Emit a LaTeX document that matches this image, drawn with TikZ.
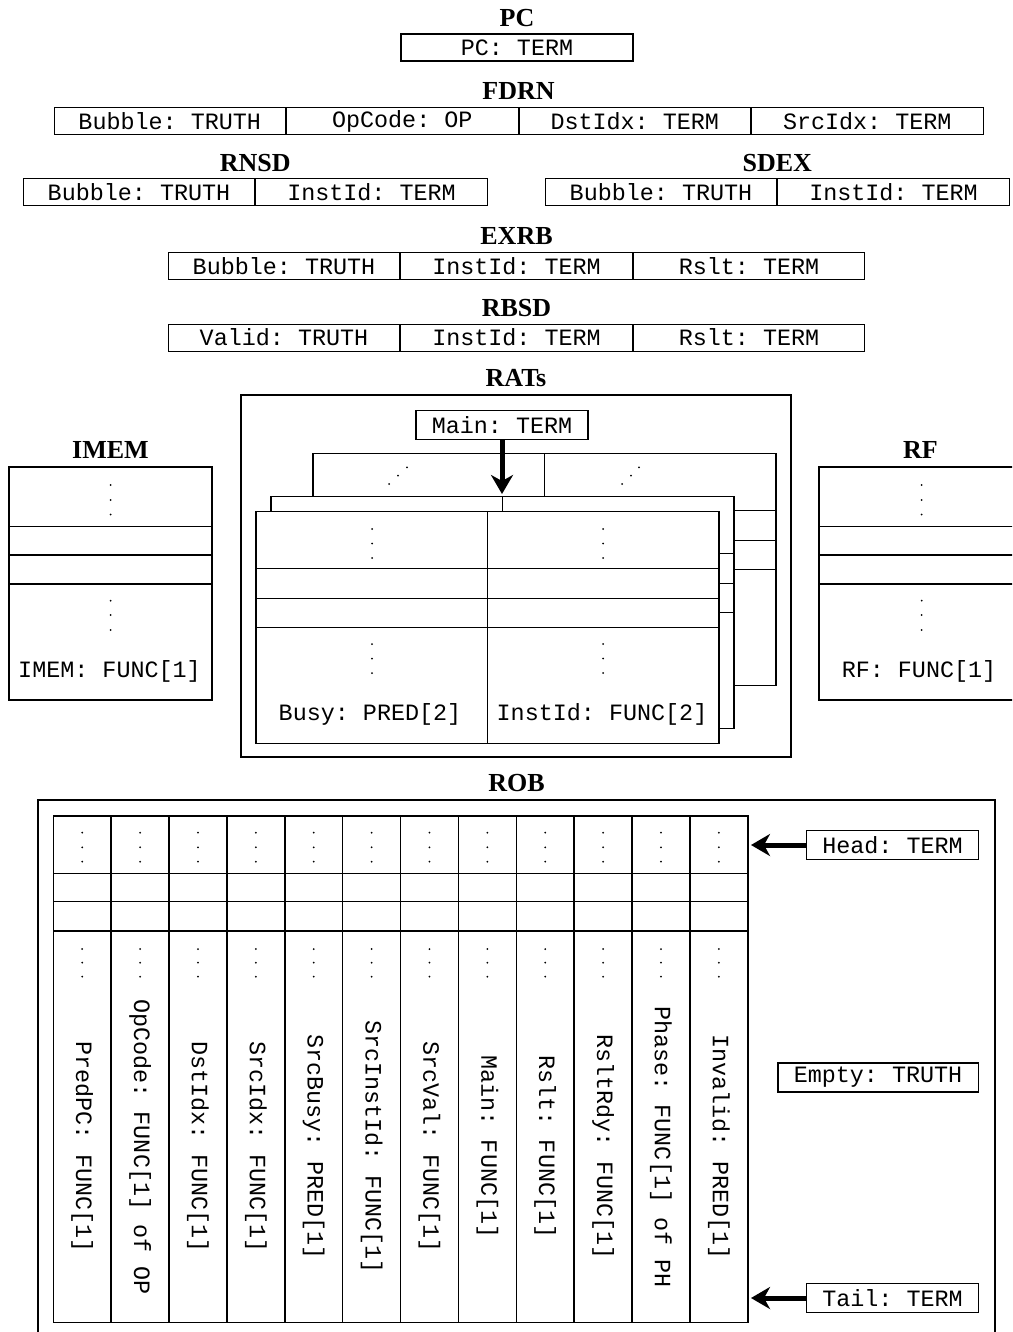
\documentclass[tikz,border=0pt]{standalone}
\usepackage{fontspec}
\setmainfont{Liberation Serif}
\setmonofont{Liberation Mono}
\usetikzlibrary{arrows.meta, positioning, calc}

\newcommand{\cellfont}{\fontsize{23.4}{26}\selectfont\ttfamily}
\newcommand{\titlefont}{\fontsize{26}{30}\selectfont\bfseries}

\begin{document}
\begin{tikzpicture}[
    x=1pt, y=-1pt,
    blocktitle/.style={font=\titlefont, inner sep=0pt},
    field/.style={draw, line width=1pt, inner sep=0pt, minimum width=231.5pt,
                  minimum height=27pt, font=\cellfont},
    reg/.style={draw, line width=1.5pt, inner xsep=16pt, inner ysep=0pt,
                minimum height=29pt, font=\cellfont},
    outerbox/.style={draw, line width=2.5pt, inner sep=0pt},
    tableline/.style={draw, line width=1.5pt},
    celltext/.style={font=\cellfont, inner sep=0pt},
    vlabel/.style={font=\cellfont, inner sep=0pt, rotate=-90},
    pointer/.style={-{Stealth[length=19pt, width=22pt, inset=6pt]}, line width=5pt},
]
    \path[use as bounding box, clip] (0,0) rectangle (1012,1332);

    % PC
    \node[field, line width=2pt] (pc) at (517,48) {PC: TERM};
    \node[blocktitle, above=7pt of pc] (pctitle) {PC};

    % FDRN
    \node[field] (fdrn1) at (169.75,121) {Bubble: TRUTH};
    \node[field, right=0pt of fdrn1] (fdrn2) {OpCode: OP};
    \node[field, right=0pt of fdrn2] (fdrn3) {DstIdx: TERM};
    \node[field, right=0pt of fdrn3] (fdrn4) {SrcIdx: TERM};
    \node[blocktitle, above=7pt of fdrn2.north east] (fdrntitle) {FDRN};

    % RNSD and SDEX
    \node[field] (rnsd1) at (139,192.5) {Bubble: TRUTH};
    \node[field, right=0pt of rnsd1] (rnsd2) {InstId: TERM};
    \node[blocktitle, above=7pt of rnsd1.north east] (rnsdtitle) {RNSD};
    \node[field] (sdex1) at (661,192.5) {Bubble: TRUTH};
    \node[field, right=0pt of sdex1] (sdex2) {InstId: TERM};
    \node[blocktitle, above=7pt of sdex1.north east] (sdextitle) {SDEX};

    % EXRB
    \node[field] (exrb1) at (284,266) {Bubble: TRUTH};
    \node[field, right=0pt of exrb1] (exrb2) {InstId: TERM};
    \node[field, right=0pt of exrb2] (exrb3) {Rslt: TERM};
    \node[blocktitle, above=7pt of exrb2] (exrbtitle) {EXRB};

    % RBSD
    \node[field] (rbsd1) at (284,337.5) {Valid: TRUTH};
    \node[field, right=0pt of rbsd1] (rbsd2) {InstId: TERM};
    \node[field, right=0pt of rbsd2] (rbsd3) {Rslt: TERM};
    \node[blocktitle, above=7pt of rbsd2] (rbsdtitle) {RBSD};

    % RATs
    \node[outerbox, minimum width=550pt, minimum height=362pt] (rats) at (516,576) {};
    \node[blocktitle, above=7pt of rats] (ratstitle) {RATs};
    \foreach \dx/\dy in {57/-58, 15/-15, 0/0} {
      \begin{scope}[shift={(\dx,\dy)}]
        \filldraw[tableline, fill=white] (256,511.7) rectangle (719,743.3);
        \draw[tableline] (487.5,511.7) -- (487.5,743.3)
          (256,568.3) -- (719,568.3) (256,598.3) -- (719,598.3) (256,627.7) -- (719,627.7);
      \end{scope}
    }
    \foreach \x/\y in {389/484, 398/475.7, 407/467.3, 622/484, 631/475.7, 639/467.3}
      \fill (\x,\y) circle (1pt);
    \foreach \x in {372,603}
      \foreach \y in {529,543.5,558,644,658.5,673}
        \fill (\x,\y) circle (1pt);
    \node[celltext] (ratbusy) at (370,714) {Busy: PRED[2]};
    \node[celltext] (ratinst) at (602,714) {InstId: FUNC[2]};
    \node[reg] (ratmain) at (502,425) {Main: TERM};
    \coordinate (ratslot) at (502,494);
    \draw[pointer] (ratmain) -- (ratslot);

    % IMEM
    \node[outerbox, minimum width=203pt, minimum height=233pt] (imem) at (110.5,583.5) {};
    \node[blocktitle, above=7pt of imem] (imemtitle) {IMEM};
    \foreach \y in {526.7,555,584}
      \draw[tableline] (9,\y) -- (212,\y);
    \foreach \y in {485,500,514.5,600.7,615,630}
      \fill (110.7,\y) circle (1pt);
    \node[celltext] (imemlabel) at (109.5,671.7) {IMEM: FUNC[1]};

    % RF
    \node[outerbox, minimum width=203pt, minimum height=233pt] (rf) at (920.5,583.5) {};
    \node[blocktitle, above=7pt of rf] (rftitle) {RF};
    \foreach \y in {526.7,555,584}
      \draw[tableline] (819,\y) -- (1022,\y);
    \foreach \y in {485,500,514.5,600.7,615,630}
      \fill (921.7,\y) circle (1pt);
    \node[celltext] (rflabel) at (919,671.7) {RF: FUNC[1]};

    % ROB
    \node[outerbox, minimum width=957pt, minimum height=545pt] (rob) at (516.5,1072.5) {};
    \node[blocktitle, above=7pt of rob] (robtitle) {ROB};
    \draw[tableline] (53.3,816) rectangle (747.8,1322.7);
    \foreach \i in {1,...,11}
      \draw[tableline] ({53.3+57.875*\i},816) -- ({53.3+57.875*\i},1322.7);
    \foreach \y in {873.3,901.7,931}
      \draw[tableline] (53.3,\y) -- (747.8,\y);
    \foreach \i in {1,...,12}
      \foreach \y in {832.7,847.3,861.7,949,962.7,976.7}
        \fill ({53.3+57.875*(\i-0.5)},\y) circle (1pt);
    \foreach \name [count=\i] in {PredPC: FUNC[1], OpCode: FUNC[1] of OP, DstIdx: FUNC[1],
        SrcIdx: FUNC[1], SrcBusy: PRED[1], SrcInstId: FUNC[1], SrcVal: FUNC[1],
        Main: FUNC[1], Rslt: FUNC[1], RsltRdy: FUNC[1], Phase: FUNC[1] of PH,
        Invalid: PRED[1]}
      \node[vlabel] (robcol\i) at ({53.3+57.875*(\i-0.5)},1147) {\name};

    \node[reg] (robhead) at (892.5,845) {Head: TERM};
    \node[reg] (robempty) at (878,1077.5) {Empty: TRUTH};
    \node[reg] (robtail) at (892.5,1298) {Tail: TERM};
    \coordinate (headslot) at (751,845);
    \coordinate (tailslot) at (751,1298);
    \draw[pointer] (robhead) -- (headslot);
    \draw[pointer] (robtail) -- (tailslot);
\end{tikzpicture}
\end{document}
